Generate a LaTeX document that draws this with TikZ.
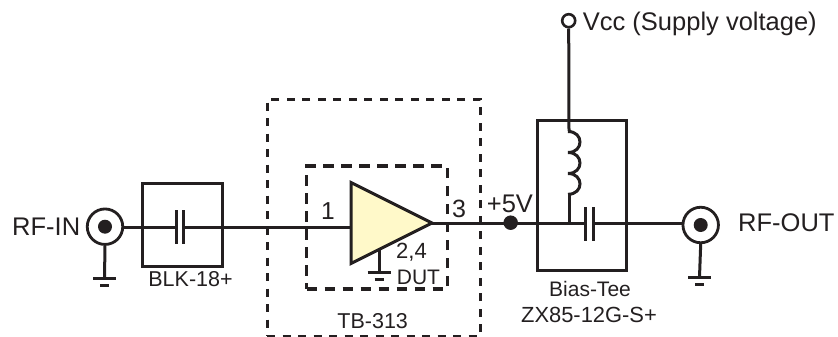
\documentclass[tikz,border=0pt]{standalone}
\usepackage{fontspec}
\setmainfont{Liberation Sans}
\definecolor{ink}{HTML}{231F20}
\definecolor{ampfill}{HTML}{FFF9C9}
\newcommand{\fsz}[1]{\fontsize{#1}{#1}\selectfont}
\tikzset{
  wire/.style={draw=ink,line width=3pt},
  boxnode/.style={draw=ink,line width=3pt,inner sep=0pt,rectangle},
  dashouter/.style={draw=ink,line width=3pt,dash pattern=on 8pt off 7.5pt,inner sep=0pt,rectangle},
  dashinner/.style={draw=ink,line width=3.1pt,dash pattern=on 10.5pt off 7.5pt,inner sep=0pt,rectangle},
  coax/.style={circle,draw=ink,line width=2.8pt,fill=white,minimum size=35.5pt,inner sep=0pt},
  coaxdot/.style={circle,fill=ink,minimum size=14pt,inner sep=0pt},
  junction/.style={circle,fill=ink,minimum size=14.5pt,inner sep=0pt},
  terminal/.style={circle,draw=ink,line width=2.6pt,fill=white,minimum size=13pt,inner sep=0pt},
  lab/.style={text=ink,inner sep=0pt,font=\fsz{21.5}},
  biglab/.style={text=ink,inner sep=0pt,font=\fsz{25.5}},
}
\newcommand{\gnd}[1]{%
  \draw[wire] ([xshift=-11.5pt]#1) -- ([xshift=11.5pt]#1);
  \draw[wire] ([xshift=-4.5pt,yshift=-7pt]#1) -- ([xshift=4.5pt,yshift=-7pt]#1);
}
\begin{document}
\begin{tikzpicture}[x=1pt,y=-1pt]
\useasboundingbox (0,0) rectangle (838,337);
% boxes
\node[dashouter,minimum width=213pt,minimum height=237pt] (tb) at (373.5,217.5) {};
\node[dashinner,minimum width=141pt,minimum height=123pt] (dut) at (377.2,227.5) {};
\node[boxnode,minimum width=80pt,minimum height=83pt] (blk) at (182,224.5) {};
\node[boxnode,minimum width=89pt,minimum height=150pt] (tee) at (581.5,195) {};
% named points
\coordinate (c1l) at (176,227);
\coordinate (c1r) at (183,227);
\coordinate (c2l) at (585.7,223);
\coordinate (c2r) at (593,223);
\coordinate (ampin) at (351,227);
\coordinate (ampout) at (432,223);
\coordinate (coiltop) at (569,131);
\coordinate (coilbot) at (569,194);
\coordinate (teenode) at (569,223);
\coordinate (gndin) at (104.5,278);
\coordinate (gndout) at (699.5,277);
\coordinate (gndamp) at (379,272);
\coordinate (gndampt) at (379,250);
% connector symbols
\node[coax] (rfin) at (105,226.7) {};
\node[coaxdot] (rfind) at (105,226.7) {};
\node[coax] (rfout) at (700.7,225) {};
\node[coaxdot] (rfoutd) at (700.7,225) {};
\node[terminal] (vcc) at (568.7,20.7) {};
\node[junction] (j5v) at (510.7,222.7) {};
% wires
\draw[wire] (rfin.east |- c1l) -- (c1l);
\draw[wire] (c1r) -- (ampin);
\draw[wire] (ampout) -- (c2l);
\draw[wire] (c2r) -- (rfout.west |- c2r);
\draw[wire] (vcc.south) -- (coiltop);
\draw[wire] (coilbot) -- (teenode);
\draw[wire] (568,131.5)
  .. controls (584,131.5) and (584,152.5) .. (568,152.5)
  .. controls (584,152.5) and (584,173.5) .. (568,173.5)
  .. controls (584,173.5) and (584,194.3) .. (568,194.3);
% capacitor plates
\draw[wire] (c1l |- 0,210) -- (c1l |- 0,244);
\draw[wire] (c1r |- 0,210) -- (c1r |- 0,244);
\draw[wire] (c2l |- 0,207) -- (c2l |- 0,241);
\draw[wire] (c2r |- 0,207) -- (c2r |- 0,241);
% amplifier
\draw[draw=ink,line width=3pt,fill=ampfill,line join=miter] (351,182.5) -- (351,263.5) -- (ampout) -- cycle;
% grounds
\draw[wire] (rfin.south) -- (gndin);
\gnd{gndin}
\draw[wire] (rfout.south) -- (gndout);
\gnd{gndout}
\draw[wire] (gndampt) -- (gndamp);
\gnd{gndamp}
% labels
\node[biglab,anchor=base west] (t1) at (12,235) {RF-IN};
\node[lab,anchor=base] (t2) at (190.5,286.7) {BLK-18+};
\node[lab,anchor=base,font=\fsz{24.5}] (t3) at (328,219) {1};
\node[lab,anchor=base,font=\fsz{25}] (t4) at (459,217.7) {3};
\node[biglab,anchor=base west] (t5) at (486.7,212.7) {+5V};
\node[lab,anchor=base west,font=\fsz{22}] (t6) at (396,258) {2,4};
\node[lab,anchor=base west,font=\fsz{21}] (t7) at (396.7,284) {DUT};
\node[lab,anchor=base] (t8) at (372.7,328) {TB-313};
\node[lab,anchor=base,font=\fsz{21}] (t9) at (590,296.7) {Bias-Tee};
\node[lab,anchor=base,font=\fsz{21.9}] (t10) at (589,322.7) {ZX85-12G-S+};
\node[biglab,anchor=base west] (t11) at (582.7,30.7) {Vcc (Supply voltage)};
\node[biglab,anchor=base west] (t12) at (738,231.7) {RF-OUT};
\end{tikzpicture}
\end{document}
